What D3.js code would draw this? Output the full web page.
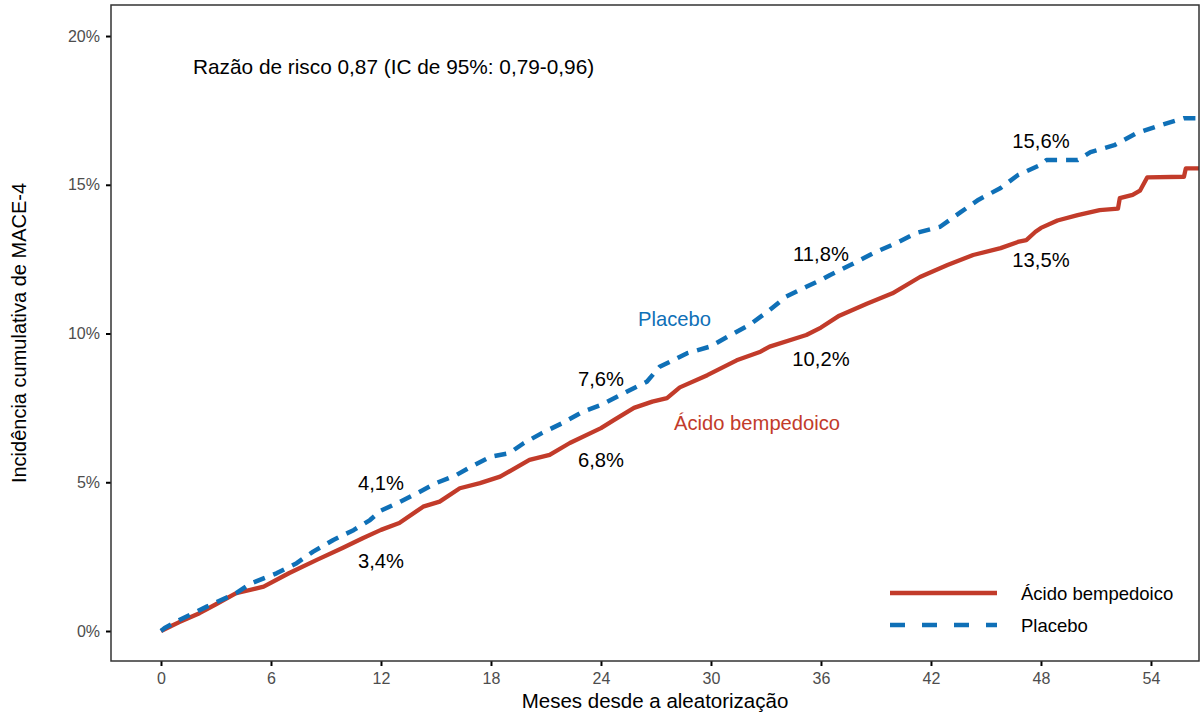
<!DOCTYPE html>
<html>
<head>
<meta charset="utf-8">
<script src="https://cdn.jsdelivr.net/npm/d3@7"></script>
<style>
  html, body { margin: 0; padding: 0; background: #fff; }
  svg { display: block; font-family: "Liberation Sans", Arial, Helvetica, sans-serif; }
</style>
</head>
<body>
<svg id="chart" width="1203" height="713"></svg>
<script>
// ---------------- DATA ----------------
const seriesNames = ["Ácido bempedoico", "Placebo"];

const bempMonths = [0, 0.5, 1.0, 2.1, 3.0, 4.1, 5.6, 7.0, 8.5, 9.9, 11.0, 12.0, 13.0, 14.3, 15.2, 16.3, 17.4, 18.5, 20.1, 21.2, 22.3, 24.0, 24.7, 25.8, 26.8, 27.6, 28.3, 29.8, 31.4, 32.7, 33.2, 34.9, 35.2, 36.0, 37.0, 38.5, 39.9, 41.4, 42.9, 44.3, 45.8, 46.8, 47.2, 47.7, 48.0, 48.9, 50.0, 51.2, 52.2, 52.3, 53.0, 53.4, 53.8, 55.8, 55.9, 56.7];
const bempValues = [0, 0.15, 0.3, 0.6, 0.9, 1.27, 1.49, 1.95, 2.39, 2.79, 3.12, 3.4, 3.63, 4.18, 4.35, 4.8, 4.97, 5.19, 5.75, 5.92, 6.32, 6.82, 7.09, 7.5, 7.71, 7.83, 8.19, 8.6, 9.1, 9.39, 9.56, 9.89, 9.95, 10.2, 10.6, 11.0, 11.35, 11.9, 12.3, 12.64, 12.87, 13.09, 13.14, 13.42, 13.55, 13.8, 13.98, 14.15, 14.2, 14.55, 14.66, 14.8, 15.25, 15.27, 15.55, 15.55];

const placeboMonths = [0, 0.2, 1.0, 2.5, 4.1, 4.9, 6.3, 7.4, 8.3, 9.4, 10.5, 11.4, 12.0, 12.9, 14.0, 15.0, 16.1, 16.9, 18.0, 19.0, 19.8, 20.8, 21.9, 23.0, 24.0, 25.4, 26.5, 27.2, 28.7, 29.95, 30.9, 32.1, 33.2, 34.1, 35.2, 36.0, 36.5, 37.6, 38.85, 40.1, 41.2, 42.5, 43.6, 44.6, 45.8, 46.75, 47.95, 48.3, 50.0, 50.7, 52.0, 53.2, 54.5, 55.8, 56.7];
const placeboValues = [0, 0.1, 0.37, 0.82, 1.27, 1.6, 1.94, 2.28, 2.67, 3.06, 3.39, 3.73, 4.05, 4.3, 4.64, 4.97, 5.24, 5.52, 5.86, 5.98, 6.32, 6.66, 6.99, 7.37, 7.6, 8.04, 8.38, 8.88, 9.34, 9.56, 9.89, 10.29, 10.79, 11.24, 11.57, 11.8, 11.97, 12.3, 12.7, 13.04, 13.38, 13.59, 14.07, 14.5, 14.89, 15.33, 15.66, 15.83, 15.83, 16.1, 16.33, 16.73, 17.0, 17.24, 17.24];

const landmarkMonths = [12, 24, 36, 48];
const bempLandmarkValues = [3.4, 6.8, 10.2, 13.5];
const placeboLandmarkValues = [4.1, 7.6, 11.8, 15.6];

const xTicks = [0, 6, 12, 18, 24, 30, 36, 42, 48, 54];
const yTicks = [0, 5, 10, 15, 20];
const yTickLabels = ["0%", "5%", "10%", "15%", "20%"];

const hazardText = "Razão de risco 0,87 (IC de 95%: 0,79-0,96)";
const xTitle = "Meses desde a aleatorização";
const yTitle = "Incidência cumulativa de MACE-4";

// ---------------- LAYOUT ----------------
const panel = { left: 111, right: 1199, top: 5, bottom: 661 };
const colors = { bemp: "#c23b2a", placebo: "#0f70b7", tick: "#4d4d4d", frame: "#333333" };

const svg = d3.select("#chart");

const x = d3.scaleLinear().domain([-2.727, 56.62]).range([panel.left, panel.right]);
const y = d3.scaleLinear().domain([-1.008, 21.043]).range([panel.bottom, panel.top]);

const fmt = v => v.toFixed(1).replace(".", ",") + "%";

// clip
svg.append("defs").append("clipPath").attr("id", "clip")
  .append("rect")
  .attr("x", panel.left).attr("y", panel.top)
  .attr("width", panel.right - panel.left).attr("height", panel.bottom - panel.top);

// axes
const xAxis = d3.axisBottom(x).tickValues(xTicks).tickSize(5).tickPadding(6).tickFormat(d => String(d));
const gx = svg.append("g").attr("transform", `translate(0,${panel.bottom})`).call(xAxis);
gx.select(".domain").remove();
gx.selectAll(".tick line").attr("stroke", "#000").attr("stroke-width", 2);
gx.selectAll(".tick text").attr("fill", colors.tick).attr("font-size", 16)
  .attr("dy", null).attr("y", 22.5);

const yAxis = d3.axisLeft(y).tickValues(yTicks).tickSize(5).tickPadding(6)
  .tickFormat((d, i) => yTickLabels[i]);
const gy = svg.append("g").attr("transform", `translate(${panel.left},0)`).call(yAxis);
gy.select(".domain").remove();
gy.selectAll(".tick line").attr("stroke", "#000").attr("stroke-width", 2);
gy.selectAll(".tick text").attr("fill", colors.tick).attr("font-size", 16);

// lines
const line = d3.line().x(d => x(d[0])).y(d => y(d[1])).curve(d3.curveLinear);
const bempData = bempMonths.map((m, i) => [m, bempValues[i]]);
const placeboData = placeboMonths.map((m, i) => [m, placeboValues[i]]);

const plotG = svg.append("g").attr("clip-path", "url(#clip)");
plotG.append("path").datum(bempData).attr("d", line)
  .attr("fill", "none").attr("stroke", colors.bemp).attr("stroke-width", 4.3)
  .attr("stroke-linejoin", "round");
plotG.append("path").datum(placeboData).attr("d", line)
  .attr("fill", "none").attr("stroke", colors.placebo).attr("stroke-width", 4.5)
  .attr("stroke-dasharray", "12,9").attr("stroke-linejoin", "round");

// frame
svg.append("rect")
  .attr("x", panel.left).attr("y", panel.top)
  .attr("width", panel.right - panel.left).attr("height", panel.bottom - panel.top)
  .attr("fill", "none").attr("stroke", colors.frame).attr("stroke-width", 1.5);

// landmark labels
const labelSize = 20.2;
landmarkMonths.forEach((m, i) => {
  svg.append("text").attr("x", x(m)).attr("y", y(placeboLandmarkValues[i]) - 19)
    .attr("text-anchor", "middle").attr("font-size", labelSize).attr("fill", "#000")
    .text(fmt(placeboLandmarkValues[i]));
  svg.append("text").attr("x", x(m)).attr("y", y(bempLandmarkValues[i]) + 38)
    .attr("text-anchor", "middle").attr("font-size", labelSize).attr("fill", "#000")
    .text(fmt(bempLandmarkValues[i]));
});

// series labels inside plot
svg.append("text").attr("x", 638).attr("y", 326).attr("font-size", labelSize)
  .attr("fill", colors.placebo).text(seriesNames[1]);
svg.append("text").attr("x", 674).attr("y", 430).attr("font-size", labelSize)
  .attr("fill", colors.bemp).text(seriesNames[0]);

// hazard ratio annotation
svg.append("text").attr("x", 193).attr("y", 74).attr("font-size", 20.8)
  .attr("fill", "#000").text(hazardText);

// legend
const legend = [
  { name: seriesNames[0], color: colors.bemp, dash: null, y: 593 },
  { name: seriesNames[1], color: colors.placebo, dash: "15,17", y: 625 }
];
legend.forEach(l => {
  svg.append("line").attr("x1", 890).attr("x2", 997).attr("y1", l.y).attr("y2", l.y)
    .attr("stroke", l.color).attr("stroke-width", 4.5)
    .attr("stroke-dasharray", l.dash);
  svg.append("text").attr("x", 1021).attr("y", l.y + 6.5).attr("font-size", 18.5)
    .attr("fill", "#000").text(l.name);
});

// axis titles
svg.append("text").attr("x", (panel.left + panel.right) / 2).attr("y", 708)
  .attr("text-anchor", "middle").attr("font-size", 20.5).attr("fill", "#000").text(xTitle);
svg.append("text")
  .attr("transform", `translate(26,${(panel.top + panel.bottom) / 2}) rotate(-90)`)
  .attr("text-anchor", "middle").attr("font-size", 20).attr("fill", "#000").text(yTitle);
</script>
</body>
</html>
